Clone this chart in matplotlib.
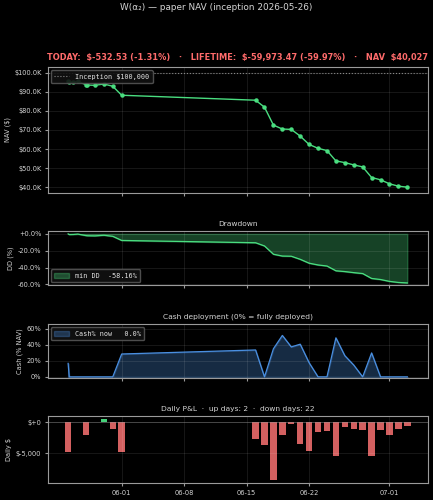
import numpy as np
import pandas as pd
import matplotlib
matplotlib.use("Agg")
import matplotlib.pyplot as plt
import matplotlib.dates as mdates
from matplotlib.ticker import FuncFormatter, MultipleLocator

# snapshots (NAV + cash share)
snap_times = ["2026-05-26 00:00", "2026-05-26 03:00", "2026-05-26 14:00", "2026-05-27 02:00",
              "2026-05-28 00:00", "2026-05-28 04:00", "2026-05-29 00:00", "2026-05-30 00:00",
              "2026-05-31 00:00", "2026-06-01 00:00", "2026-06-16 00:00", "2026-06-17 00:00",
              "2026-06-18 00:00", "2026-06-19 00:00", "2026-06-20 00:00", "2026-06-21 00:00",
              "2026-06-22 00:00", "2026-06-23 00:00", "2026-06-24 00:00", "2026-06-25 00:00",
              "2026-06-26 00:00", "2026-06-27 00:00", "2026-06-28 00:00", "2026-06-29 00:00",
              "2026-06-30 00:00", "2026-07-01 00:00", "2026-07-02 00:00", "2026-07-03 00:00"]
nav_values = [95665, 94900, 95000, 95450, 93700, 93550, 93400, 94100, 92900, 88200, 85600,
              81950, 72550, 70500, 70300, 66800, 62400, 60400, 59200, 53800, 52900, 51700,
              50650, 45100, 43900, 41800, 40559.06, 40026.53]
cash_pct = [16.8, 0, 0, 0, 0, 0, 0, 0, 0, 28.5, 33.5, 0, 35.0, 51.6, 37.3, 40.7, 17.6, 0, 0,
            48.6, 26.4, 14.7, 0, 29.8, 0, 0, 0, 0]

# daily P&L bars
pnl_days = ["2026-05-26", "2026-05-28", "2026-05-29", "2026-05-30", "2026-05-31", "2026-06-01",
            "2026-06-16", "2026-06-17", "2026-06-18", "2026-06-19", "2026-06-20", "2026-06-21",
            "2026-06-22", "2026-06-23", "2026-06-24", "2026-06-25", "2026-06-26", "2026-06-27",
            "2026-06-28", "2026-06-29", "2026-06-30", "2026-07-01", "2026-07-02", "2026-07-03"]
pnl_values = [-4730, -1990, 110, 480, -1020, -4730, -2630, -3600, -9300, -2100, -270, -3440,
              -4570, -1610, -1340, -5380, -800, -1020, -1290, -5480, -1290, -2100, -1020, -532.53]

inception = 100000
inception_date = "2026-05-26"

t = pd.to_datetime(snap_times, format="%Y-%m-%d %H:%M")
nav = np.array(nav_values, dtype=float)
cash = np.array(cash_pct, dtype=float)
dd = (nav / np.maximum.accumulate(nav) - 1) * 100
pd_days = pd.to_datetime(pnl_days, format="%Y-%m-%d")
pnl = np.array(pnl_values, dtype=float)

GREEN = "#4ade80"
RED = "#e06666"
BLUE = "#4a8fe0"
HEAD = "#ff6b6b"
TXT = "#d4d4d4"

plt.style.use("dark_background")
plt.rcParams.update({
    "font.size": 4.8,
    "axes.edgecolor": "#9a9a9a",
    "axes.linewidth": 0.8,
    "axes.labelcolor": TXT,
    "axes.labelpad": 2.5,
    "xtick.color": "#9a9a9a",
    "ytick.color": "#9a9a9a",
    "xtick.labelcolor": TXT,
    "ytick.labelcolor": TXT,
    "xtick.labelsize": 4.8,
    "ytick.labelsize": 4.8,
    "xtick.major.size": 2,
    "ytick.major.size": 2,
    "xtick.major.pad": 2.5,
    "ytick.major.pad": 2.5,
    "grid.color": "#ffffff",
    "grid.alpha": 0.13,
    "grid.linewidth": 0.5,
})

fig = plt.figure(figsize=(4.33, 5.0), dpi=100)
gs = fig.add_gridspec(4, 1, height_ratios=[126, 54, 54, 67], hspace=0.512,
                      left=0.110, right=0.988, top=0.866, bottom=0.0334)
ax1 = fig.add_subplot(gs[0])
ax2 = fig.add_subplot(gs[1], sharex=ax1)
ax3 = fig.add_subplot(gs[2], sharex=ax1)
ax4 = fig.add_subplot(gs[3], sharex=ax1)

leg_kw = dict(prop={"family": "DejaVu Sans Mono", "size": 4.9}, facecolor="#111111",
              edgecolor="#555555", framealpha=0.9, labelcolor="#e6e6e6", borderpad=0.5,
              handlelength=2.2)

fig.suptitle("W(α₂) — paper NAV (inception %s)" % inception_date, fontsize=6.4,
             color=TXT, y=0.984, va="center")

# NAV
today = pnl[-1]
life = nav[-1] - inception
head = "TODAY:  $%s (%+.2f%%)   ·   LIFETIME:  $%s (%+.2f%%)   ·   NAV  $%s" % (
    format(today, ",.2f"), today / (nav[-1] - today) * 100,
    format(life, ",.2f"), life / inception * 100, format(nav[-1], ",.0f"))
ax1.set_title(head, color=HEAD, fontsize=5.95, fontweight="bold", pad=5)
ax1.axhline(inception, color="#888888", ls=":", lw=0.8, label="Inception $%s" % format(inception, ",.0f"))
ax1.plot(t, nav, color=GREEN, lw=1.0, marker="o", ms=2.2)
ax1.set_ylabel("NAV ($)")
ax1.yaxis.set_major_locator(MultipleLocator(10000))
ax1.yaxis.set_major_formatter(FuncFormatter(lambda v, p: "$%.1fK" % (v / 1000)))
ax1.grid(True)
ax1.legend(loc="upper left", **leg_kw)

# drawdown
ax2.fill_between(t, dd, 0, color=GREEN, alpha=0.3, label="min DD  %.2f%%" % dd.min())
ax2.plot(t, dd, color=GREEN, lw=0.9)
ax2.set_title("Drawdown", color=TXT, fontsize=5.4, pad=4)
ax2.set_ylabel("DD (%)")
ax2.yaxis.set_major_locator(MultipleLocator(20))
ax2.yaxis.set_major_formatter(FuncFormatter(lambda v, p: "%+.1f%%" % v))
ax2.grid(True)
ax2.legend(loc="lower left", **leg_kw)

# cash
ax3.fill_between(t, cash, 0, color=BLUE, alpha=0.3, label="Cash%% now  %4.1f%%" % cash[-1])
ax3.plot(t, cash, color=BLUE, lw=0.9)
ax3.set_title("Cash deployment (0% = fully deployed)", color=TXT, fontsize=5.4, pad=4)
ax3.set_ylabel("Cash (% NAV)")
ax3.set_ylim(-1.2, 66)
ax3.yaxis.set_major_locator(MultipleLocator(20))
ax3.yaxis.set_major_formatter(FuncFormatter(lambda v, p: "%.0f%%" % v))
ax3.grid(True)
ax3.legend(loc="upper left", **leg_kw)

# daily P&L
up = int((pnl > 0).sum())
down = int((pnl < 0).sum())
cols = [GREEN if v > 0 else RED for v in pnl]
ax4.bar(pd_days, pnl, width=0.72, color=cols, alpha=0.95)
ax4.axhline(0, color="#888888", lw=0.5, alpha=0.6)
ax4.set_title("Daily P&L  ·  up days: %d  ·  down days: %d" % (up, down), color=TXT,
              fontsize=5.4, pad=4)
ax4.set_ylabel("Daily $")
ax4.yaxis.set_major_locator(MultipleLocator(5000))
ax4.yaxis.set_major_formatter(FuncFormatter(lambda v, p: "$%s" % format(v, "+,.0f")))
ax4.grid(True)
ax4.xaxis.set_major_formatter(mdates.DateFormatter("%m-%d"))

for a in (ax1, ax2, ax3):
    plt.setp(a.get_xticklabels(), visible=False)

fig.savefig("out.png", dpi=100, facecolor="black")
